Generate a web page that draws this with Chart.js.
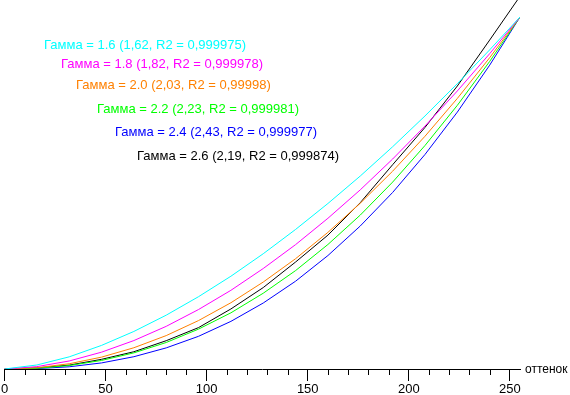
<!DOCTYPE html>
<html>
<head>
<meta charset="utf-8">
<script src="https://cdn.jsdelivr.net/npm/chart.js@4.4.1/dist/chart.umd.min.js"></script>
<style>
html,body{margin:0;padding:0;background:#fff;}
canvas{display:block;}
</style>
</head>
<body>
<canvas id="c" width="570" height="395"></canvas>
<script>
// input levels (x) and measured output levels (y, 0..255 scale)
const levels  = [0, 16, 32, 48, 64, 80, 96, 112, 128, 144, 160, 176, 192, 208, 224, 240, 255];
const gamma16 = [0, 2.9, 8.8, 17.1, 27.2, 39.0, 52.4, 67.2, 83.5, 101.1, 119.9, 139.8, 161.0, 183.3, 206.7, 231.2, 255];
const gamma18 = [0, 1.7, 5.8, 12.2, 20.6, 30.9, 43.1, 57.0, 72.8, 90.1, 109.2, 129.8, 152.1, 176.0, 201.4, 228.4, 255];
const gamma20 = [0, 0.9, 3.8, 8.6, 15.4, 24.2, 35.1, 48.0, 63.0, 79.9, 99.0, 120.1, 143.3, 168.6, 196.0, 225.5, 255];
const gamma22 = [0, 0.5, 2.5, 6.2, 11.7, 19.2, 28.9, 40.7, 54.9, 71.3, 90.2, 111.5, 135.4, 161.9, 191.0, 222.8, 255];
const gamma24 = [0, 0.3, 1.6, 4.4, 8.9, 15.3, 23.7, 34.5, 47.8, 63.6, 82.2, 103.6, 127.9, 155.4, 186.1, 220.1, 255];
const gamma26 = [0, 0.8, 2.8, 7.0, 12.5, 20.5, 30.0, 43.5, 59.0, 77.5, 97.0, 120.5, 148.0, 175.0, 205.0, 238.3, 270];

const seriesLabels = [
  'Гамма = 1.6 (1,62, R2 = 0,999975)',
  'Гамма = 1.8 (1,82, R2 = 0,999978)',
  'Гамма = 2.0 (2,03, R2 = 0,99998)',
  'Гамма = 2.2 (2,23, R2 = 0,999981)',
  'Гамма = 2.4 (2,43, R2 = 0,999977)',
  'Гамма = 2.6 (2,19, R2 = 0,999874)'
];
const seriesColors = ['#00ffff', '#ff00ff', '#ff8000', '#00ff00', '#0000ff', '#000000'];
const seriesData = [gamma16, gamma18, gamma20, gamma22, gamma24, gamma26];
const axisTitle = 'оттенок';
const xMin = 0, xMax = 255, yMax = 267.3;

const FAMILY = '"Liberation Sans", Arial, sans-serif';

const labelPos = [[44, 45], [61, 64], [76, 85], [97, 109], [115, 132], [137, 156]];

const overlay = {
  id: 'overlay',
  afterDraw(chart) {
    const ctx = chart.ctx;
    const xs = chart.scales.x;
    const bottom = chart.chartArea.bottom;
    ctx.save();
    // minor ticks
    ctx.strokeStyle = '#000';
    ctx.lineWidth = 1;
    ctx.beginPath();
    for (let v = 10; v <= 250; v += 10) {
      if (v % 50 === 0) continue;
      const px = Math.round(xs.getPixelForValue(v)) + 0.5;
      ctx.moveTo(px, bottom);
      ctx.lineTo(px, bottom + 6);
    }
    ctx.stroke();
    // series labels
    ctx.font = '13px ' + FAMILY;
    ctx.textBaseline = 'middle';
    ctx.textAlign = 'left';
    seriesLabels.forEach((t, i) => {
      ctx.fillStyle = seriesColors[i];
      ctx.fillText(t, labelPos[i][0], labelPos[i][1]);
    });
    // axis title
    ctx.font = '12px ' + FAMILY;
    ctx.fillStyle = '#000';
    ctx.fillText(axisTitle, xs.right + 5, bottom + 1);
    ctx.restore();
  }
};

new Chart(document.getElementById('c'), {
  type: 'line',
  data: {
    datasets: seriesData.map((s, i) => ({
      label: seriesLabels[i],
      data: levels.map((x, j) => ({ x: x, y: s[j] })),
      borderColor: seriesColors[i],
      borderWidth: 1,
      pointRadius: 0,
      tension: 0,
      fill: false
    }))
  },
  options: {
    responsive: false,
    animation: false,
    devicePixelRatio: 1,
    layout: { padding: { left: 4.5, right: 50, top: 0, bottom: 0 } },
    plugins: { legend: { display: false }, tooltip: { enabled: false } },
    scales: {
      x: {
        type: 'linear',
        min: xMin,
        max: xMax,
        border: { display: true, color: '#000', width: 1 },
        grid: {
          drawOnChartArea: false,
          tickLength: 12,
          tickColor: (c) => (c.tick && c.tick.value % 50 === 0) ? '#000' : 'rgba(0,0,0,0)'
        },
        ticks: {
          stepSize: 10,
          autoSkip: false,
          includeBounds: false,
          maxRotation: 0,
          padding: 1,
          color: '#000',
          font: { family: FAMILY, size: 13 },
          callback: (v) => (v % 50 === 0 ? String(v) : '')
        },
        afterFit(scale) { scale.height = 26; scale.paddingLeft = 0; scale.paddingRight = 0; }
      },
      y: {
        display: false,
        min: 0,
        max: yMax
      }
    }
  },
  plugins: [overlay]
});
</script>
</body>
</html>
